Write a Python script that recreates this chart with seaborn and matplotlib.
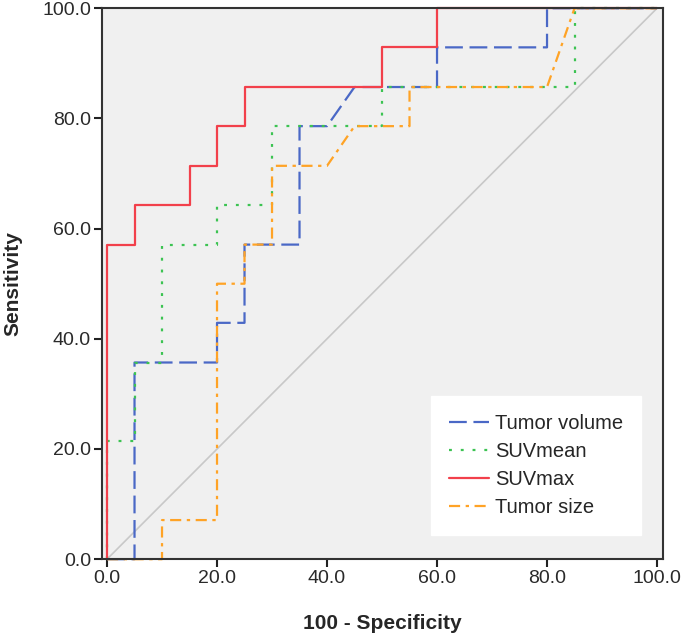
import seaborn as sns
import matplotlib.pyplot as plt
import pandas as pd

# ROC curve vertices (x = 100 - specificity, y = sensitivity)
vol_fpr = [0, 5, 5, 20, 20, 25, 25, 35, 35, 40, 45, 60, 60, 80, 80, 100]
vol_tpr = [0, 0, 35.7, 35.7, 42.9, 42.9, 57.1, 57.1, 78.6, 78.6, 85.7, 85.7, 92.9, 92.9, 100, 100]

mean_fpr = [0, 0, 5, 5, 10, 10, 20, 20, 30, 30, 50, 50, 85, 85, 100]
mean_tpr = [0, 21.4, 21.4, 35.7, 35.7, 57.1, 57.1, 64.3, 64.3, 78.6, 78.6, 85.7, 85.7, 100, 100]

max_fpr = [0, 0, 5, 5, 15, 15, 20, 20, 25, 25, 50, 50, 60, 60, 100]
max_tpr = [0, 57.1, 57.1, 64.3, 64.3, 71.4, 71.4, 78.6, 78.6, 85.7, 85.7, 92.9, 92.9, 100, 100]

size_fpr = [0, 10, 10, 20, 20, 25, 25, 30, 30, 40, 45, 55, 55, 80, 85, 100]
size_tpr = [0, 0, 7.1, 7.1, 50, 50, 57.1, 57.1, 71.4, 71.4, 78.6, 78.6, 85.7, 85.7, 100, 100]

ref_line = [0, 100]
ticks = [0, 20, 40, 60, 80, 100]

curves = [
    ("Tumor volume", vol_fpr, vol_tpr, "#4a68c6", (8, 3)),
    ("SUVmean", mean_fpr, mean_tpr, "#3cc352", (1.3, 4)),
    ("SUVmax", max_fpr, max_tpr, "#f2404b", ""),
    ("Tumor size", size_fpr, size_tpr, "#ffa326", (5, 2.5, 1.5, 2.5)),
]

sns.set_style("ticks")
plt.rcParams["font.family"] = ["Liberation Sans", "DejaVu Sans"]

fig = plt.figure(figsize=(6.85, 6.34), dpi=100)
ax = fig.add_axes([0.149, 0.118, 0.819, 0.869])
ax.set_facecolor("#f0f0f0")

# chance diagonal
sns.lineplot(x=ref_line, y=ref_line, ax=ax, color="#c8c8c8", linewidth=1.2,
             estimator=None, sort=False, legend=False)

for name, fx, fy, col, dash in curves:
    df = pd.DataFrame({"fpr": fx, "tpr": fy})
    sns.lineplot(data=df, x="fpr", y="tpr", ax=ax, color=col, linewidth=1.6,
                 estimator=None, sort=False, label=name)
    ln = ax.lines[-1]
    ln.set_clip_on(False)
    if dash:
        ln.set_dashes(dash)

ax.set_xlim(-0.9, 101.1)
ax.set_ylim(0, 100)
ax.set_xticks(ticks)
ax.set_yticks(ticks)
ax.set_xticklabels([f"{t:.1f}" for t in ticks], fontsize=14, color="#2a2a2a")
ax.set_yticklabels([f"{t:.1f}" for t in ticks], fontsize=14, color="#2a2a2a")
ax.tick_params(direction="out", length=6, width=1.5, color="#222222", pad=2)

for sp in ax.spines.values():
    sp.set_visible(True)
    sp.set_color("#333333")
    sp.set_linewidth(1.5)

ax.set_xlabel("100 - Specificity", fontsize=15, fontweight="bold", labelpad=19)
ax.set_ylabel("Sensitivity", fontsize=15, fontweight="bold", labelpad=14)

leg = ax.legend(loc="lower right", bbox_to_anchor=(0.961, 0.0436), borderaxespad=0,
                frameon=True, fancybox=False, fontsize=14.5, handlelength=2.0,
                handletextpad=0.3, labelspacing=0.45, borderpad=0.9)
leg.get_frame().set_facecolor("white")
leg.get_frame().set_edgecolor("white")
leg.get_frame().set_alpha(1)

plt.savefig("out.png", dpi=100)
